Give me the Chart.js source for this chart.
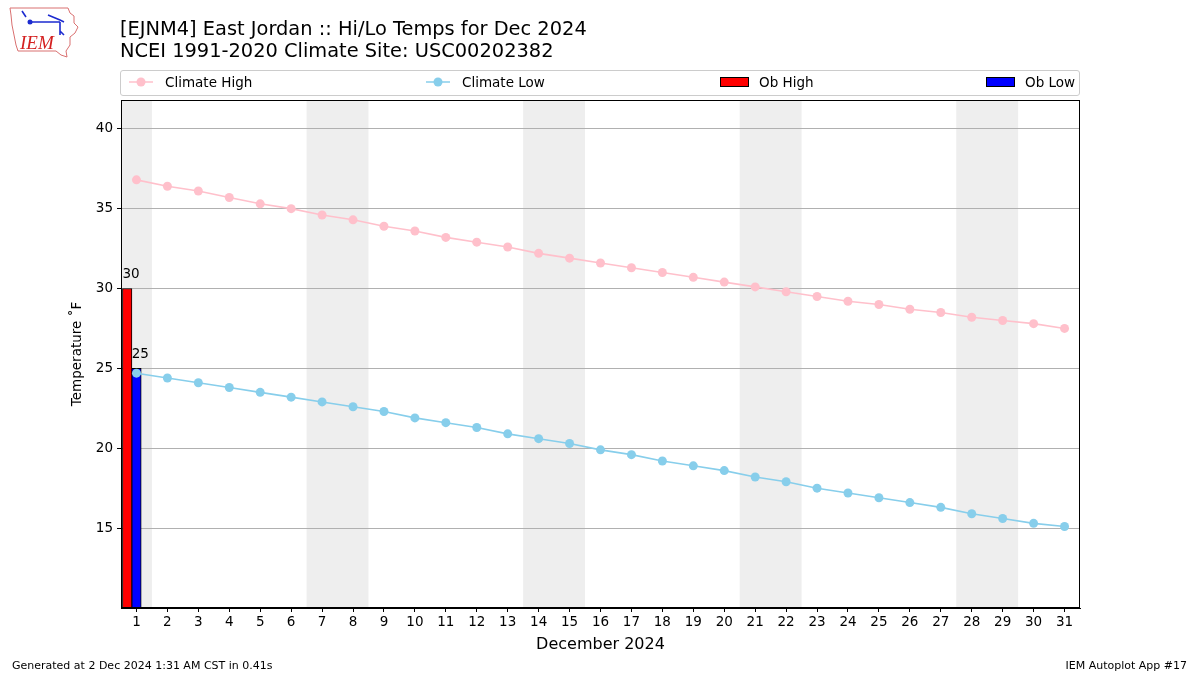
<!DOCTYPE html>
<html>
<head>
<meta charset="utf-8">
<script src="https://cdn.jsdelivr.net/npm/chart.js@4"></script>
<style>
  body { margin: 0; background: #fff; font-family: "DejaVu Sans", sans-serif; }
  #wrap { position: relative; width: 1200px; height: 675px; }
  #chart { position: absolute; left: 0; top: 0; }
  .title { position: absolute; left: 120px; font-size: 19.4px; color: #000; white-space: nowrap; }
  #legend { position: absolute; left: 120px; top: 70px; width: 958px; height: 24px;
            border: 1px solid #cccccc; border-radius: 3px; }
  .item { position: absolute; top: 0; height: 22px; font-size: 13.5px; line-height: 22px; white-space: nowrap; }
  .foot { position: absolute; top: 659px; font-size: 11px; color: #000; white-space: nowrap; }
</style>
</head>
<body>
<div id="wrap">
  <canvas id="chart" width="1200" height="675"></canvas>
  <svg style="position:absolute;left:8px;top:5px" width="74" height="54" viewBox="0 0 74 54">
    <path d="M2,3 L60,3 L62,8 L66,11 L66,18 L70,22 L67,28 L62,32 L62,40 L58,46 L59,52 L53,50 L48,46 L10,46 L8,40 L6,30 L4,20 L3,10 Z"
          fill="none" stroke="#d97070" stroke-width="1"/>
    <path d="M14,6 L18,12 M22,17 L52,17 M40,10 L52,15 L56,17 M52,17 L52,30 M52,26 L56,30" stroke="#1c2bd0" stroke-width="1.6" fill="none"/>
    <circle cx="22" cy="17" r="2.5" fill="#1c2bd0"/>
    <text x="12" y="44" font-family="Liberation Serif, serif" font-style="italic" font-size="19" fill="#d42020">IEM</text>
  </svg>
  <div class="title" style="top:17px">[EJNM4] East Jordan :: Hi/Lo Temps for Dec 2024</div>
  <div class="title" style="top:39px">NCEI 1991-2020 Climate Site: USC00202382</div>
  <div id="legend"></div>
  <div class="foot" style="left:12px">Generated at 2 Dec 2024 1:31 AM CST in 0.41s</div>
  <div class="foot" style="right:13px">IEM Autoplot App #17</div>
</div>
<script>
const days = Array.from({ length: 31 }, (_, i) => i + 1);
const climateHigh = [36.8, 36.4, 36.1, 35.7, 35.3, 35.0, 34.6, 34.3, 33.9, 33.6, 33.2, 32.9, 32.6, 32.2, 31.9,
  31.6, 31.3, 31.0, 30.7, 30.4, 30.1, 29.8, 29.5, 29.2, 29.0, 28.7, 28.5, 28.2, 28.0, 27.8, 27.5];
const climateLow = [24.7, 24.4, 24.1, 23.8, 23.5, 23.2, 22.9, 22.6, 22.3, 21.9, 21.6, 21.3, 20.9, 20.6, 20.3,
  19.9, 19.6, 19.2, 18.9, 18.6, 18.2, 17.9, 17.5, 17.2, 16.9, 16.6, 16.3, 15.9, 15.6, 15.3, 15.1];
const obDays = [1];
const obHigh = [30];
const obLow = [25];
const weekendDays = [1, 7, 8, 14, 15, 21, 22, 28, 29];
const yTicks = [15, 20, 25, 30, 35, 40];

const pink = "#ffc0cb";
const sky = "#87ceeb";

// gray bands behind weekends (consecutive days merged so no seams show)
const weekendPlugin = {
  id: "weekends",
  beforeDraw(chart) {
    const { ctx, chartArea, scales } = chart;
    const spans = [];
    weekendDays.forEach((d) => {
      const last = spans[spans.length - 1];
      if (last && last[1] === d - 1) last[1] = d;
      else spans.push([d, d]);
    });
    ctx.save();
    ctx.fillStyle = "#eeeeee";
    spans.forEach(([a, b]) => {
      const x0 = Math.max(scales.x.getPixelForValue(a - 0.5), chartArea.left);
      const x1 = Math.min(scales.x.getPixelForValue(b + 0.5), chartArea.right);
      ctx.fillRect(x0, chartArea.top, x1 - x0, chartArea.bottom - chartArea.top);
    });
    ctx.restore();
  }
};

// value labels above the bars + full frame
const labelPlugin = {
  id: "barLabels",
  afterDatasetsDraw(chart) {
    const { ctx, chartArea } = chart;
    ctx.save();
    ctx.font = '13.5px "DejaVu Sans"';
    ctx.fillStyle = "#000";
    ctx.textAlign = "left";
    ctx.textBaseline = "bottom";
    chart.data.datasets.forEach((ds, i) => {
      if (ds.type !== "bar") return;
      chart.getDatasetMeta(i).data.forEach((bar, j) => {
        ctx.fillText(String(ds.data[j].y), bar.x - bar.width / 2, bar.y - 7);
      });
    });
    ctx.strokeStyle = "#000";
    ctx.lineWidth = 1;
    ctx.strokeRect(chartArea.left + 0.5, chartArea.top + 0.5,
      chartArea.right - chartArea.left - 1, chartArea.bottom - chartArea.top - 1);
    ctx.restore();
  }
};

const ctx = document.getElementById("chart").getContext("2d");
const chart = new Chart(ctx, {
  data: {
    datasets: [
      {
        type: "line",
        label: "Climate High",
        data: days.map((d, i) => ({ x: d, y: climateHigh[i] })),
        borderColor: pink,
        backgroundColor: pink,
        borderWidth: 1.6,
        pointRadius: 4.5,
        pointBorderWidth: 0,
        order: 1
      },
      {
        type: "line",
        label: "Climate Low",
        data: days.map((d, i) => ({ x: d, y: climateLow[i] })),
        borderColor: sky,
        backgroundColor: sky,
        borderWidth: 1.6,
        pointRadius: 4.5,
        pointBorderWidth: 0,
        order: 1
      },
      {
        type: "bar",
        label: "Ob High",
        data: obDays.map((d, i) => ({ x: d - 0.3, y: obHigh[i] })),
        backgroundColor: "#ff0000",
        borderColor: "#000",
        borderWidth: 1,
        barThickness: 9.5,
        grouped: false,
        order: 2
      },
      {
        type: "bar",
        label: "Ob Low",
        data: obDays.map((d, i) => ({ x: d, y: obLow[i] })),
        backgroundColor: "#0000ff",
        borderColor: "#000",
        borderWidth: 1,
        barThickness: 9.5,
        grouped: false,
        order: 2
      }
    ]
  },
  options: {
    responsive: false,
    animation: false,
    layout: { padding: { left: 0, top: 100, right: 120, bottom: 0 } },
    plugins: {
      legend: { display: false },
      tooltip: { enabled: false }
    },
    scales: {
      x: {
        type: "linear",
        min: 0.5,
        max: 31.5,
        offset: false,
        afterBuildTicks: (s) => { s.ticks = days.map((v) => ({ value: v })); },
        afterFit: (s) => { s.height = 67; },
        grid: { offset: false, drawOnChartArea: false, tickColor: "#000", tickLength: 4 },
        border: { color: "#000" },
        ticks: { color: "#000", padding: 2, maxRotation: 0, autoSkip: false, font: { family: "DejaVu Sans", size: 13.5 } },
        title: { display: true, text: "December 2024", color: "#000", font: { family: "DejaVu Sans", size: 16 }, padding: { top: 4, bottom: 21 } }
      },
      y: {
        min: 10,
        max: 41.8,
        afterBuildTicks: (s) => { s.ticks = yTicks.map((v) => ({ value: v })); },
        afterFit: (s) => { s.width = 121; },
        grid: { color: "#b0b0b0", tickColor: "#000", tickLength: 4 },
        border: { color: "#000" },
        ticks: { color: "#000", padding: 4, font: { family: "DejaVu Sans", size: 13.5 } },
        title: { display: true, text: "Temperature ˚F", color: "#000", font: { family: "DejaVu Sans", size: 13.5 }, padding: { top: 69, bottom: 0 } }
      }
    }
  },
  plugins: [weekendPlugin, labelPlugin]
});

// legend laid out like the reference: four columns spread across the box
const legendX = [8, 305, 599, 865];
const legend = document.getElementById("legend");
chart.data.datasets.forEach((ds, i) => {
  const item = document.createElement("div");
  item.className = "item";
  item.style.left = legendX[i] + "px";
  let mark;
  if (ds.type === "line") {
    mark = '<svg width="24" height="12" style="vertical-align:-1px"><line x1="0" y1="6" x2="24" y2="6" stroke="' +
      ds.borderColor + '" stroke-width="1.5"/><circle cx="12" cy="6" r="4.5" fill="' + ds.backgroundColor + '"/></svg>';
  } else {
    mark = '<svg width="29" height="11" style="vertical-align:-1px"><rect x="0.5" y="0.5" width="28" height="9" fill="' +
      ds.backgroundColor + '" stroke="#000" stroke-width="1"/></svg>';
  }
  item.innerHTML = mark + '<span style="margin-left:' + (ds.type === "line" ? 12 : 10) + 'px">' + ds.label + "</span>";
  legend.appendChild(item);
});
</script>
</body>
</html>
